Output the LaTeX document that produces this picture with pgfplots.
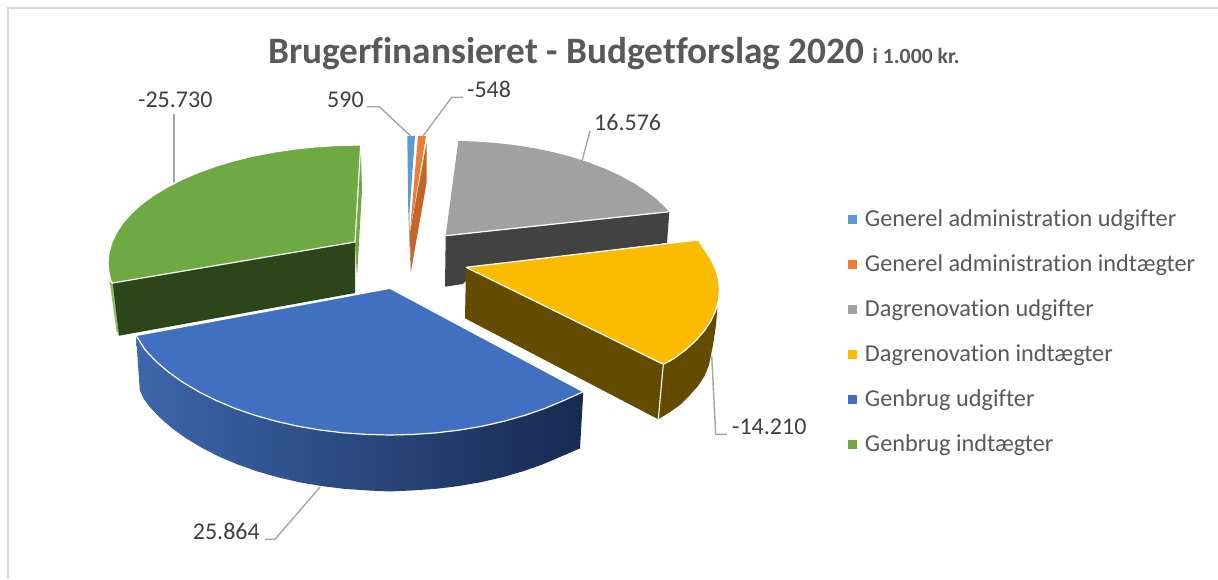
\documentclass[border=0pt]{standalone}
\usepackage{fontspec}
\setmainfont{Carlito}[Ligatures=NoCommon]
\usepackage{pgfplots}
\pgfplotsset{compat=1.18}
\definecolor{cGreen}{HTML}{6FA944}
\definecolor{cGreenD}{HTML}{2D4619}
\definecolor{cGreenL}{HTML}{8FBF6E}
\definecolor{cGrey}{HTML}{A1A1A1}
\definecolor{cGreyD}{HTML}{424242}
\definecolor{cYel}{HTML}{FBBC00}
\definecolor{cBrown}{HTML}{634B00}
\definecolor{cBlue}{HTML}{4270C0}
\definecolor{cBlue1}{HTML}{3D66AC}
\definecolor{cBlue2}{HTML}{274676}
\definecolor{cBlue3}{HTML}{172A50}
\definecolor{cSky}{HTML}{5B9BD5}
\definecolor{cOr}{HTML}{ED7D31}
\definecolor{cOrD}{HTML}{C4662A}
\definecolor{cLead}{HTML}{A6A6A6}
\definecolor{cLab}{HTML}{404040}
\definecolor{cTxt}{HTML}{595959}
\definecolor{cFrame}{HTML}{D9D9D9}
\definecolor{cOut}{HTML}{FDFDFB}
\newcommand{\lab}{\fontsize{24}{28}\selectfont\color{cLab}}
\begin{document}
\begin{tikzpicture}
\begin{axis}[
  scale only axis, width=1218pt, height=579pt,
  xmin=0, xmax=1218, ymin=0, ymax=579, y dir=reverse,
  hide axis, clip=true,
  legend style={at={(848/1218,1-210/579)}, anchor=north west, draw=none, fill=none,
    font=\fontsize{24.3}{28}\selectfont, text=cTxt, row sep=26.6pt, column sep=9pt,
    inner sep=0pt, outer sep=0pt,
    nodes={inner sep=0pt}},
  legend cell align=left,
]
\addlegendimage{only marks, mark=square*, mark size=4pt, color=cSky}
\addlegendentry{Generel administration udgifter}
\addlegendimage{only marks, mark=square*, mark size=4pt, color=cOr}
\addlegendentry{Generel administration indtægter}
\addlegendimage{only marks, mark=square*, mark size=4pt, color=cGrey}
\addlegendentry{Dagrenovation udgifter}
\addlegendimage{only marks, mark=square*, mark size=4pt, color=cYel}
\addlegendentry{Dagrenovation indtægter}
\addlegendimage{only marks, mark=square*, mark size=4pt, color=cBlue}
\addlegendentry{Genbrug udgifter}
\addlegendimage{only marks, mark=square*, mark size=4pt, color=cGreen}
\addlegendentry{Genbrug indtægter}

% background and frame
\addplot[forget plot, fill=cOut, draw=none] coordinates {(0,0) (1218,0) (1218,579) (0,579) (0,0)};
\addplot[forget plot, fill=white, draw=none] coordinates {(8,8) (1218,8) (1218,579) (8,579) (8,8)};
\addplot[forget plot, draw=cFrame, line width=1.6pt] coordinates {(8,579) (8,8) (1218,8)};

% leaders behind
\addplot[forget plot, draw=cLead, line width=1.4pt] coordinates {(174,114) (174,186)};
\addplot[forget plot, draw=cLead, line width=1.4pt] coordinates {(367,106.7) (379.3,106.7) (410.7,136)};
\addplot[forget plot, draw=cLead, line width=1.4pt] coordinates {(463,97.3) (451.7,97.3) (423,136)};
\addplot[forget plot, draw=cLead, line width=1.4pt] coordinates {(590,131) (581.7,162)};
\addplot[forget plot, draw=cLead, line width=1.4pt] coordinates {(727,434.3) (715.7,434.3) (711.7,356)};
\addplot[forget plot, draw=cLead, line width=1.4pt] coordinates {(265,539.3) (275,539.3) (320,487)};

% green slice
\addplot[forget plot, fill=cGreen, draw=none] coordinates {(360.7,146) (362,190) (357,277) (355,242) (360.7,146)};
\addplot[forget plot, fill=cGreenL, draw=none] coordinates {(109.5,281) (113,283) (119,335.7) (116.5,331) (109.5,281)};
\addplot[forget plot, fill=cGreenD, draw=none] coordinates {(112.7,283) (355,242) (355,293) (119,335.7) (112.7,283)};
\addplot[forget plot, fill=cGreen, draw=white, line width=1.2pt] coordinates {
 (360.7,145) (338,145.4) (316.2,146.8) (294.8,149) (273.8,152.1) (253.5,156) (234,160.8) (215.5,166.3)
 (198,172.6) (181.8,179.6) (167,187.2) (153.6,195.3) (141.8,204) (131.6,213.1) (123.2,222.6) (116.6,232.5)
 (111.8,242.5) (109,252.7) (108,263) (109,273.3) (111.1,281.5) (112.7,283) (355,242) (360.7,145)};

% small slices
\addplot[forget plot, fill=cSky!70!white, draw=none] coordinates {(408,205) (409.5,215) (410.5,272) (409,235) (408,205)};
\addplot[forget plot, fill=cSky, draw=none] coordinates {(407.3,136) (415,136) (409.3,215) (408.3,210) (407.3,136)};
\addplot[forget plot, fill=cOrD, draw=none] coordinates {(426.7,142) (426.7,182) (410.7,272.7) (410,232) (426.7,142)};
\addplot[forget plot, fill=cOr, draw=none] coordinates {(418,136) (426,136) (410,232) (418,136)};

% grey slice
\addplot[forget plot, fill=cGreyD, draw=none] coordinates {(445.7,236) (669.3,212) (667,243) (480,266) (463,284) (445,286.7) (445.7,236)};
\addplot[forget plot, fill=cGrey, draw=none] coordinates {
 (458.3,141) (473.6,141.4) (494,142.8) (514.1,145) (533.7,148.1) (552.7,152) (571,156.8) (588.4,162.3)
 (604.7,168.6) (619.9,175.6) (633.8,183.2) (646.3,191.3) (657.4,200) (667,209.3) (669.3,211.7) (445.7,235.7) (458.3,141)};
\addplot[forget plot, draw=white, line width=1.2pt] coordinates {(445.7,235.7) (669.3,211.7)};

% yellow slice
\addplot[forget plot, fill=cBrown, draw=none] coordinates {(466,267.3) (663.3,364.3) (658.3,419.3) (465,318.3) (466,267.3)};
\addplot[forget plot, fill=cBrown, draw=none] coordinates {
 (663.3,364.3) (673.6,358.8) (685.5,350) (695.7,340.7) (704.2,331) (710.8,321.1) (715.6,310.8) (717.5,307)
 (716,325) (713,345) (709,365) (704.5,376) (698,386) (690,395) (680,405) (670,412) (658.3,419.3) (663.3,364.3)};
\addplot[forget plot, draw=white, line width=1.1pt] coordinates {(663.3,364.3) (658.3,419.3)};
\addplot[forget plot, fill=cYel, draw=white, line width=1.2pt] coordinates {
 (466,267.3) (698.3,240) (704.2,249) (710.8,258.9) (715.6,269.1) (718.5,279.6) (719.5,290) (718.5,300.5)
 (715.6,310.8) (710.8,321.1) (704.2,331) (695.7,340.7) (685.5,350) (673.6,358.8) (663.3,364.3) (466,267.3)};

% blue slice
\addplot[forget plot, left color=cBlue1, middle color=cBlue2, right color=cBlue3, draw=none] coordinates {
 (136,335.5) (145.3,350.1) (156.2,361.5) (168.8,372.3) (183.2,382.5) (199.1,391.9) (216.5,400.6) (235.1,408.4)
 (255,415.3) (275.9,421.2) (297.7,426.2) (320.1,430) (343.1,432.8) (366.5,434.4) (390,435) (413.5,434.4)
 (436.9,432.8) (459.9,430) (482.3,426.2) (504.1,421.2) (525,415.3) (544.9,408.4) (563.5,400.6) (583.3,391.7)
 (580,448.3) (560.9,456.6) (542.6,464.4) (523,471.3) (502.4,477.2) (480.9,482.2) (458.9,486) (436.2,488.8)
 (413.1,490.4) (390,491.5) (366.9,490.4) (343.8,488.8) (321.2,486) (299.1,482.2) (277.6,477.2) (257,471.3)
 (237.4,464.4) (219.1,456.6) (202,447.9) (186.3,438.5) (172.1,428.3) (159.7,417.5) (149,406.1) (143.5,398.5) (139.8,390) (136,335.5)};
\addplot[forget plot, fill=cBlue, draw=white, line width=1.2pt] coordinates {
 (390,288.3) (136,335.5) (145.3,350.1) (156.2,361.5) (168.8,372.3) (183.2,382.5) (199.1,391.9) (216.5,400.6) (235.1,408.4)
 (255,415.3) (275.9,421.2) (297.7,426.2) (320.1,430) (343.1,432.8) (366.5,434.4) (390,435) (413.5,434.4)
 (436.9,432.8) (459.9,430) (482.3,426.2) (504.1,421.2) (525,415.3) (544.9,408.4) (563.5,400.6) (583.3,391.7) (390,288.3)};

% texts
\node[anchor=base west, inner sep=0pt, text=cTxt] at (axis cs:268,63.3) {\fontsize{37.3}{42}\selectfont\bfseries Brugerfinansieret - Budgetforslag 2020};
\node[anchor=base west, inner sep=0pt, text=cTxt] at (axis cs:872.5,63.3) {\fontsize{21.7}{24}\selectfont\bfseries i 1.000 kr.};
\node[anchor=base west, inner sep=0pt] at (axis cs:138,107.5) {\lab -25.730};
\node[anchor=base west, inner sep=0pt] at (axis cs:327,107.5) {\lab 590};
\node[anchor=base west, inner sep=0pt] at (axis cs:467,97.3) {\lab -548};
\node[anchor=base west, inner sep=0pt] at (axis cs:594,130) {\lab 16.576};
\node[anchor=base west, inner sep=0pt] at (axis cs:732,434) {\lab -14.210};
\node[anchor=base west, inner sep=0pt] at (axis cs:192.7,539.3) {\lab 25.864};
\end{axis}
\end{tikzpicture}
\end{document}
